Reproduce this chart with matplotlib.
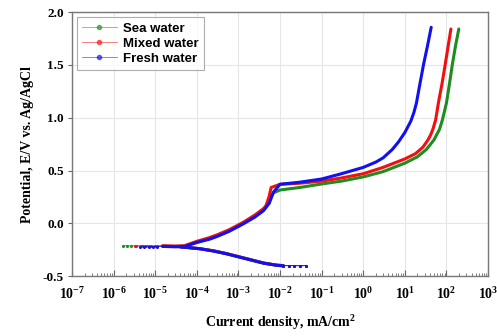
import matplotlib
matplotlib.use('Agg')
import matplotlib.pyplot as plt
from matplotlib.lines import Line2D
from matplotlib.font_manager import FontProperties
from matplotlib.ticker import LogLocator, NullFormatter, FixedLocator, FixedFormatter

plt.rcParams['mathtext.fontset'] = 'custom'
plt.rcParams['mathtext.rm'] = 'Liberation Serif'
plt.rcParams['mathtext.bf'] = 'Liberation Serif:bold'

# 图例名称与颜色
labels = ['Sea water', 'Mixed water', 'Fresh water']
colors = ['#1e8c1e', '#f01010', '#1010f0']

# 阴极支 (current density, potential)
cath_x = {
    'Sea water':   [4e-5, 6e-5, 1.2e-4, 2.5e-4, 5e-4, 1e-3, 2e-3, 4e-3, 8e-3, 1.2e-2],
    'Mixed water': [4e-5, 6e-5, 1.2e-4, 2.5e-4, 5e-4, 1e-3, 2e-3, 4e-3, 8e-3, 1.2e-2],
    'Fresh water': [4e-5, 6e-5, 1.2e-4, 2.5e-4, 5e-4, 1e-3, 2e-3, 4e-3, 8e-3, 1.2e-2],
}
cath_y = {
    'Sea water':   [-0.222, -0.228, -0.24, -0.26, -0.285, -0.315, -0.345, -0.375, -0.395, -0.40],
    'Mixed water': [-0.222, -0.228, -0.24, -0.26, -0.285, -0.315, -0.345, -0.375, -0.395, -0.40],
    'Fresh water': [-0.222, -0.229, -0.241, -0.262, -0.287, -0.317, -0.347, -0.377, -0.396, -0.402],
}

# 阳极支
anod_x = {
    'Sea water':   [1.5e-5, 3e-5, 5e-5, 1e-4, 2e-4, 3e-4, 6e-4, 1.3e-3, 2.5e-3, 4e-3, 5e-3, 6e-3,
                    7e-3, 1e-2, 3e-2, 1e-1, 3e-1, 1, 3, 10, 20, 33, 50, 68, 80, 100, 118, 138,
                    165, 198],
    'Mixed water': [1.5e-5, 3e-5, 5e-5, 1e-4, 2e-4, 3e-4, 6e-4, 1.3e-3, 2.5e-3, 4e-3, 4.6e-3, 5.5e-3,
                    6.1e-3, 1e-2, 3e-2, 1e-1, 3e-1, 1, 3, 10, 18, 27, 36, 42, 48, 55, 64, 78,
                    93, 110, 128],
    'Fresh water': [1.5e-5, 3e-5, 5e-5, 1e-4, 2e-4, 3e-4, 6e-4, 1.3e-3, 2.5e-3, 4e-3, 5.5e-3, 6.9e-3,
                    1e-2, 3e-2, 1e-1, 3e-1, 1, 2, 3, 5, 7, 10, 14, 16.5, 19, 23, 28, 35, 43],
}
anod_y = {
    'Sea water':   [-0.215, -0.218, -0.215, -0.18, -0.145, -0.12, -0.07, 0.0, 0.07, 0.13, 0.18, 0.25,
                    0.29, 0.316, 0.34, 0.373, 0.40, 0.44, 0.49, 0.57, 0.63, 0.70, 0.79, 0.89, 0.98,
                    1.14, 1.32, 1.5, 1.68, 1.84],
    'Mixed water': [-0.212, -0.215, -0.212, -0.17, -0.135, -0.11, -0.06, 0.01, 0.08, 0.14, 0.168, 0.26,
                    0.34, 0.37, 0.38, 0.40, 0.43, 0.47, 0.53, 0.61, 0.66, 0.72, 0.79, 0.84, 0.90,
                    0.98, 1.14, 1.32, 1.5, 1.68, 1.84],
    'Fresh water': [-0.218, -0.222, -0.22, -0.18, -0.15, -0.125, -0.075, -0.005, 0.06, 0.12, 0.19, 0.294,
                    0.37, 0.39, 0.42, 0.47, 0.53, 0.58, 0.62, 0.70, 0.77, 0.86, 0.97, 1.05, 1.14,
                    1.32, 1.5, 1.68, 1.856],
}

# 低电流端的离散点
tail_x = {
    'Sea water':   [1.65e-6, 2.1e-6, 2.6e-6, 3.5e-6, 5e-6, 7e-6, 1e-5, 1.5e-5],
    'Mixed water': [3.3e-6, 4.5e-6, 6e-6, 8e-6, 1.1e-5, 1.5e-5],
    'Fresh water': [4.3e-6, 5.5e-6, 7e-6, 9e-6, 1.1e-5, 1.5e-5],
}
tail_y = {
    'Sea water':   [-0.212, -0.212, -0.213, -0.214, -0.214, -0.215, -0.215, -0.215],
    'Mixed water': [-0.213, -0.214, -0.213, -0.214, -0.213, -0.212],
    'Fresh water': [-0.22, -0.219, -0.221, -0.22, -0.219, -0.218],
}
end_x = [1.2e-2, 1.6e-2, 2.2e-2, 3e-2, 4.1e-2]
end_y = [-0.40, -0.401, -0.40, -0.402, -0.40]

fig = plt.figure(figsize=(4.97, 3.36), dpi=100)
ax = fig.add_axes([0.145, 0.178, 0.837, 0.786])

for lab, c in zip(labels, colors):
    ax.plot(tail_x[lab], tail_y[lab], color=c, lw=0.5, marker='o', ms=2.2, mew=0)
    ax.plot(cath_x[lab], cath_y[lab], color=c, lw=2.2, solid_capstyle='round')
    ax.plot(anod_x[lab], anod_y[lab], color=c, lw=2.2, solid_capstyle='round',
            solid_joinstyle='round')
    ax.plot(end_x, end_y, color=c, lw=0.5, marker='o', ms=2.2, mew=0)

ax.set_xscale('log')
ax.set_xlim(1e-7, 1e3)
ax.set_ylim(-0.5, 2.0)

# 坐标轴刻度
x_exps = list(range(-7, 4))
ax.xaxis.set_major_locator(FixedLocator([10.0 ** e for e in x_exps]))
ax.xaxis.set_major_formatter(FixedFormatter([r'$\mathbf{10^{%d}}$' % e for e in x_exps]))
ax.xaxis.set_minor_locator(LogLocator(base=10, subs=range(2, 10), numticks=100))
ax.xaxis.set_minor_formatter(NullFormatter())
y_ticks = [-0.5, 0.0, 0.5, 1.0, 1.5, 2.0]
ax.set_yticks(y_ticks)
ax.set_yticklabels(['%.1f' % v for v in y_ticks])

for t in ax.get_yticklabels():
    t.set_fontproperties(FontProperties(family='Liberation Serif', weight='bold', size=9.5))
ax.tick_params(axis='x', which='major', direction='in', length=4, labelsize=10, pad=7, color='#666666')
ax.tick_params(axis='x', which='minor', direction='in', length=2, color='#666666')
ax.tick_params(axis='y', direction='out', length=3, pad=3, color='#666666')

ax.grid(True, which='major', color='#e6e6e6', lw=0.8)
ax.set_axisbelow(True)
for s in ax.spines.values():
    s.set_color('#777777')
    s.set_linewidth(1.0)

ax.set_xlabel(r'Current density, mA/cm$\mathbf{^2}$', family='Liberation Serif',
              weight='bold', size=10, labelpad=8)
ax.set_ylabel('Potential, E/V vs. Ag/AgCl', family='Liberation Serif',
              weight='bold', size=10, labelpad=6)

handles = [Line2D([], [], color=c, lw=0.6, alpha=0.6, marker='o', ms=3,
                  markerfacecolor=c, markeredgecolor=c) for c in colors]
leg = ax.legend(handles, labels, loc='upper left', bbox_to_anchor=(0.012, 0.98),
                borderaxespad=0,
                prop=dict(family='Liberation Sans', weight='bold', size=9.5),
                frameon=True, fancybox=False, edgecolor='#999999', handlelength=2.6,
                handletextpad=0.5, labelspacing=0.2, borderpad=0.4)
leg.get_frame().set_linewidth(0.8)

plt.savefig('out.png', dpi=100)
